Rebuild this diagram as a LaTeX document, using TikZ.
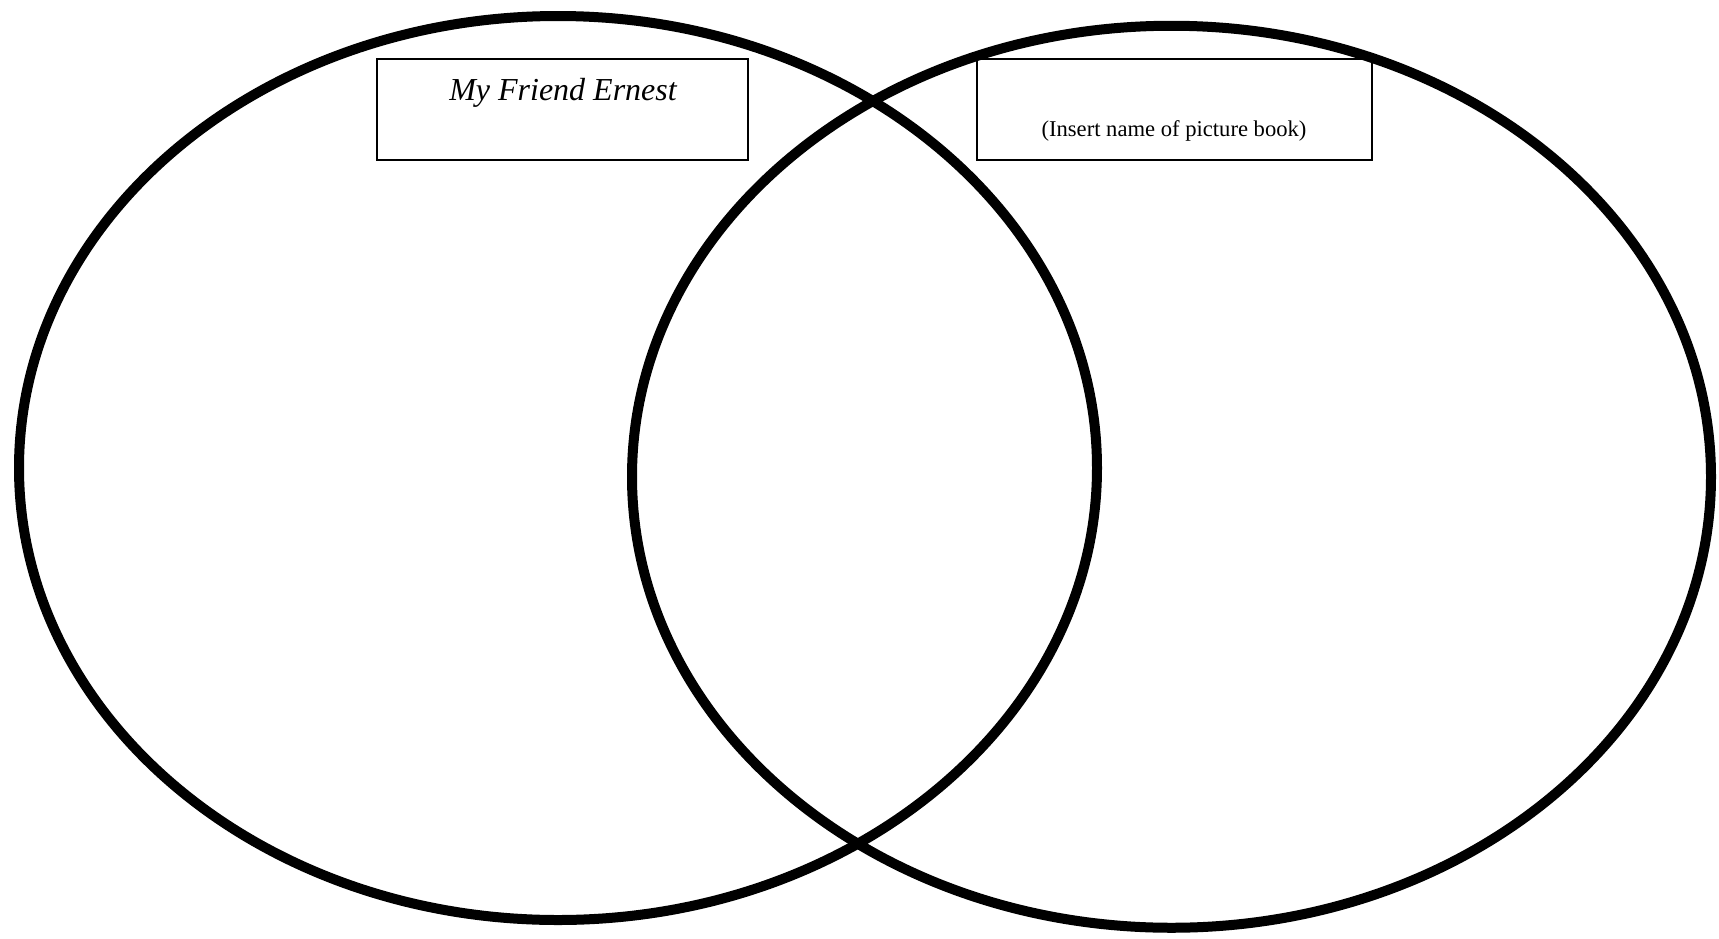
\documentclass[tikz,border=0pt]{standalone}
\usepackage{fontspec}
\setmainfont{Liberation Serif}
\begin{document}
\begin{tikzpicture}[x=1pt,y=-1pt,
  ring/.style={draw=black,line width=10pt},
  titlebox/.style={draw=black,line width=1.3pt,minimum height=101pt,inner sep=0pt}]
\useasboundingbox (0,0) rectangle (1719,938);
\draw[ring] (558,468) ellipse [x radius=539, y radius=452];
\draw[ring] (1171.5,476.75) ellipse [x radius=539.5, y radius=451];
\node[titlebox,minimum width=371pt] (lbox) at (562.5,109.5) {};
\node[titlebox,minimum width=395pt] (rbox) at (1174.5,109.5) {};
\node[anchor=base,font=\fontsize{32}{38}\selectfont\itshape] (ltext) at (563,100) {My Friend Ernest};
\node[anchor=base,font=\fontsize{22.6}{27}\selectfont] (rtext) at (1174,136) {(Insert name of picture book)};
\end{tikzpicture}
\end{document}
